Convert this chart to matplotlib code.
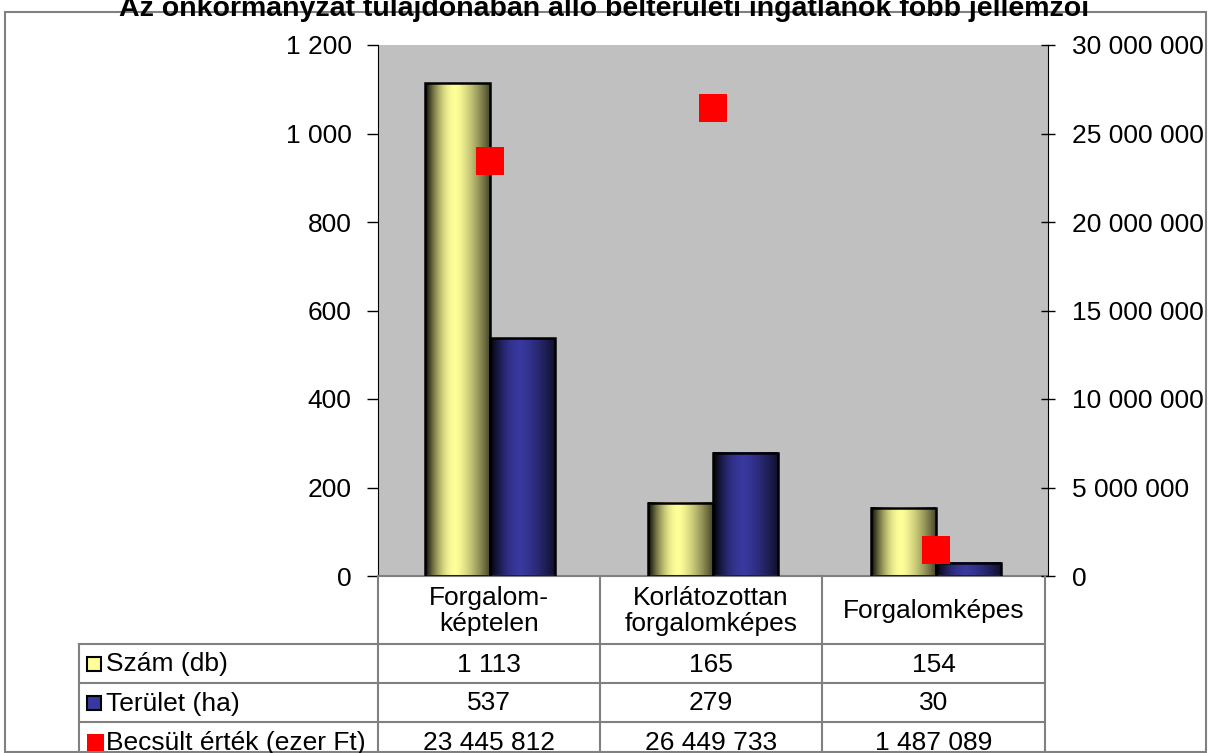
import numpy as np
import matplotlib
matplotlib.use("Agg")
import matplotlib.pyplot as plt
from matplotlib.patches import Rectangle
from matplotlib.lines import Line2D

plt.rcParams['font.family'] = ['Liberation Sans', 'DejaVu Sans']

# ---- data ----
title = "Az önkormányzat tulajdonában álló belterületi ingatlanok főbb jellemzői"
categories = ["Forgalom-\nképtelen", "Korlátozottan\nforgalomképes", "Forgalomképes"]
series_labels = ["Szám (db)", "Terület (ha)", "Becsült érték (ezer Ft)"]
szam = [1113, 165, 154]
terulet = [537, 279, 30]
becsult = [23445812, 26449733, 1487089]
left_ticks = [0, 200, 400, 600, 800, 1000, 1200]
right_ticks = [0, 5000000, 10000000, 15000000, 20000000, 25000000, 30000000]

W, H = 1208, 753
fig = plt.figure(figsize=(W / 100, H / 100), dpi=100)

def fx(x):
    return x / W

def fy(y):
    return 1 - y / H

def fmt(v):
    return f"{v:,}".replace(",", " ")

FS = 19
GRAY = "#808080"

# outer frame
fig.add_artist(Rectangle((fx(5), fy(752)), fx(1201), 740 / H, transform=fig.transFigure,
                         fill=False, edgecolor=GRAY, linewidth=1.5))

# title
fig.text(fx(604), fy(16), title, ha='center', va='baseline', fontsize=20.5, fontweight='bold')

# plot axes
x0p, x1p, y0p, y1p = 378, 1048, 576, 45
ax = fig.add_axes([fx(x0p), fy(y0p), (x1p - x0p) / W, (y0p - y1p) / H])
ax.set_facecolor("#C0C0C0")
ax.set_xlim(-0.5, 2.5)
ax.set_ylim(0, 1200)

bw = 0.291

def profile(n=200):
    t = np.linspace(0, 1, n)
    p = np.where(t < 0.47,
                 np.sin(np.pi / 2 * t / 0.47) ** 0.9,
                 1 - 0.72 * ((t - 0.47) / 0.53) ** 1.4)
    return p

prof = profile()

def grad_bar(x_left, width, height, peak):
    img = np.outer(np.ones(2), prof)[:, :, None] * np.array(peak)[None, None, :]
    img = np.clip(img, 0, 1)
    ax.imshow(img, extent=(x_left, x_left + width, 0, height), aspect='auto',
              interpolation='bilinear', zorder=2, origin='lower')
    ax.add_patch(Rectangle((x_left, 0), width, height, fill=False,
                           edgecolor='black', linewidth=1.8, zorder=3))

yellow = (1.0, 1.0, 0.6)
blue = (0.22, 0.22, 0.62)
for i in range(len(categories)):
    grad_bar(i - bw, bw, szam[i], yellow)
    grad_bar(i, bw, terulet[i], blue)

ax.set_xlim(-0.5, 2.5)
ax.set_ylim(0, 1200)
ax.set_xticks([])
ax.set_yticks(left_ticks)
ax.set_yticklabels([fmt(v) for v in left_ticks], fontsize=FS)
ax.tick_params(axis='y', direction='out', length=8, width=1, pad=11, color='black')
ax.spines['top'].set_visible(False)
ax.spines['right'].set_visible(False)
ax.spines['bottom'].set_color(GRAY)
ax.spines['bottom'].set_linewidth(1.5)
ax.spines['left'].set_color('black')

ax2 = ax.twinx()
ax2.set_ylim(0, 30000000)
ax2.plot(range(len(categories)), becsult, linestyle='none', marker='s',
         markersize=20, color='#FF0000', markeredgewidth=0, zorder=5)
ax2.set_yticks(right_ticks)
ax2.set_yticklabels([fmt(v) for v in right_ticks], fontsize=FS)
ax2.tick_params(axis='y', direction='inout', length=10, width=1, pad=12, color='black')
for s in ['top', 'left', 'bottom']:
    ax2.spines[s].set_visible(False)
ax2.spines['right'].set_color('black')
ax2.set_xlim(-0.5, 2.5)

# ---- data table ----
col_x = [79, 378, 600, 822, 1045]
row_y = [576, 644, 683, 722, 762]

def hline(x_a, x_b, y):
    fig.add_artist(Line2D([fx(x_a), fx(x_b)], [fy(y), fy(y)], transform=fig.transFigure,
                          color=GRAY, linewidth=1.5))

def vline(x, y_a, y_b):
    fig.add_artist(Line2D([fx(x), fx(x)], [fy(y_a), fy(y_b)], transform=fig.transFigure,
                          color=GRAY, linewidth=1.5))

for y in row_y[1:]:
    hline(col_x[0], col_x[-1], y)
for x in col_x[1:]:
    vline(x, row_y[0], row_y[-1])
vline(col_x[0], row_y[1], row_y[-1])

for j, cat in enumerate(categories):
    cx = (col_x[j + 1] + col_x[j + 2]) / 2
    fig.text(fx(cx), fy((row_y[0] + row_y[1]) / 2 + 1), cat, ha='center', va='center',
             fontsize=FS, linespacing=1.15)

series_vals = [szam, terulet, becsult]
key_colors = [yellow, blue, (1, 0, 0)]
key_edges = ['black', 'black', 'none']
key_sizes = [14, 14, 17]
for r, (lab, vals) in enumerate(zip(series_labels, series_vals)):
    yc = (row_y[r + 1] + row_y[r + 2]) / 2
    ks = key_sizes[r]
    fig.add_artist(Rectangle((fx(87), fy(yc + ks / 2)), ks / W, ks / H, transform=fig.transFigure,
                             facecolor=key_colors[r], edgecolor=key_edges[r], linewidth=1.5))
    fig.text(fx(106), fy(yc + 1), lab, ha='left', va='center', fontsize=FS)
    for j, v in enumerate(vals):
        cx = (col_x[j + 1] + col_x[j + 2]) / 2
        fig.text(fx(cx), fy(yc + 1), fmt(v), ha='center', va='center', fontsize=FS)

fig.savefig("out.png", dpi=100)
